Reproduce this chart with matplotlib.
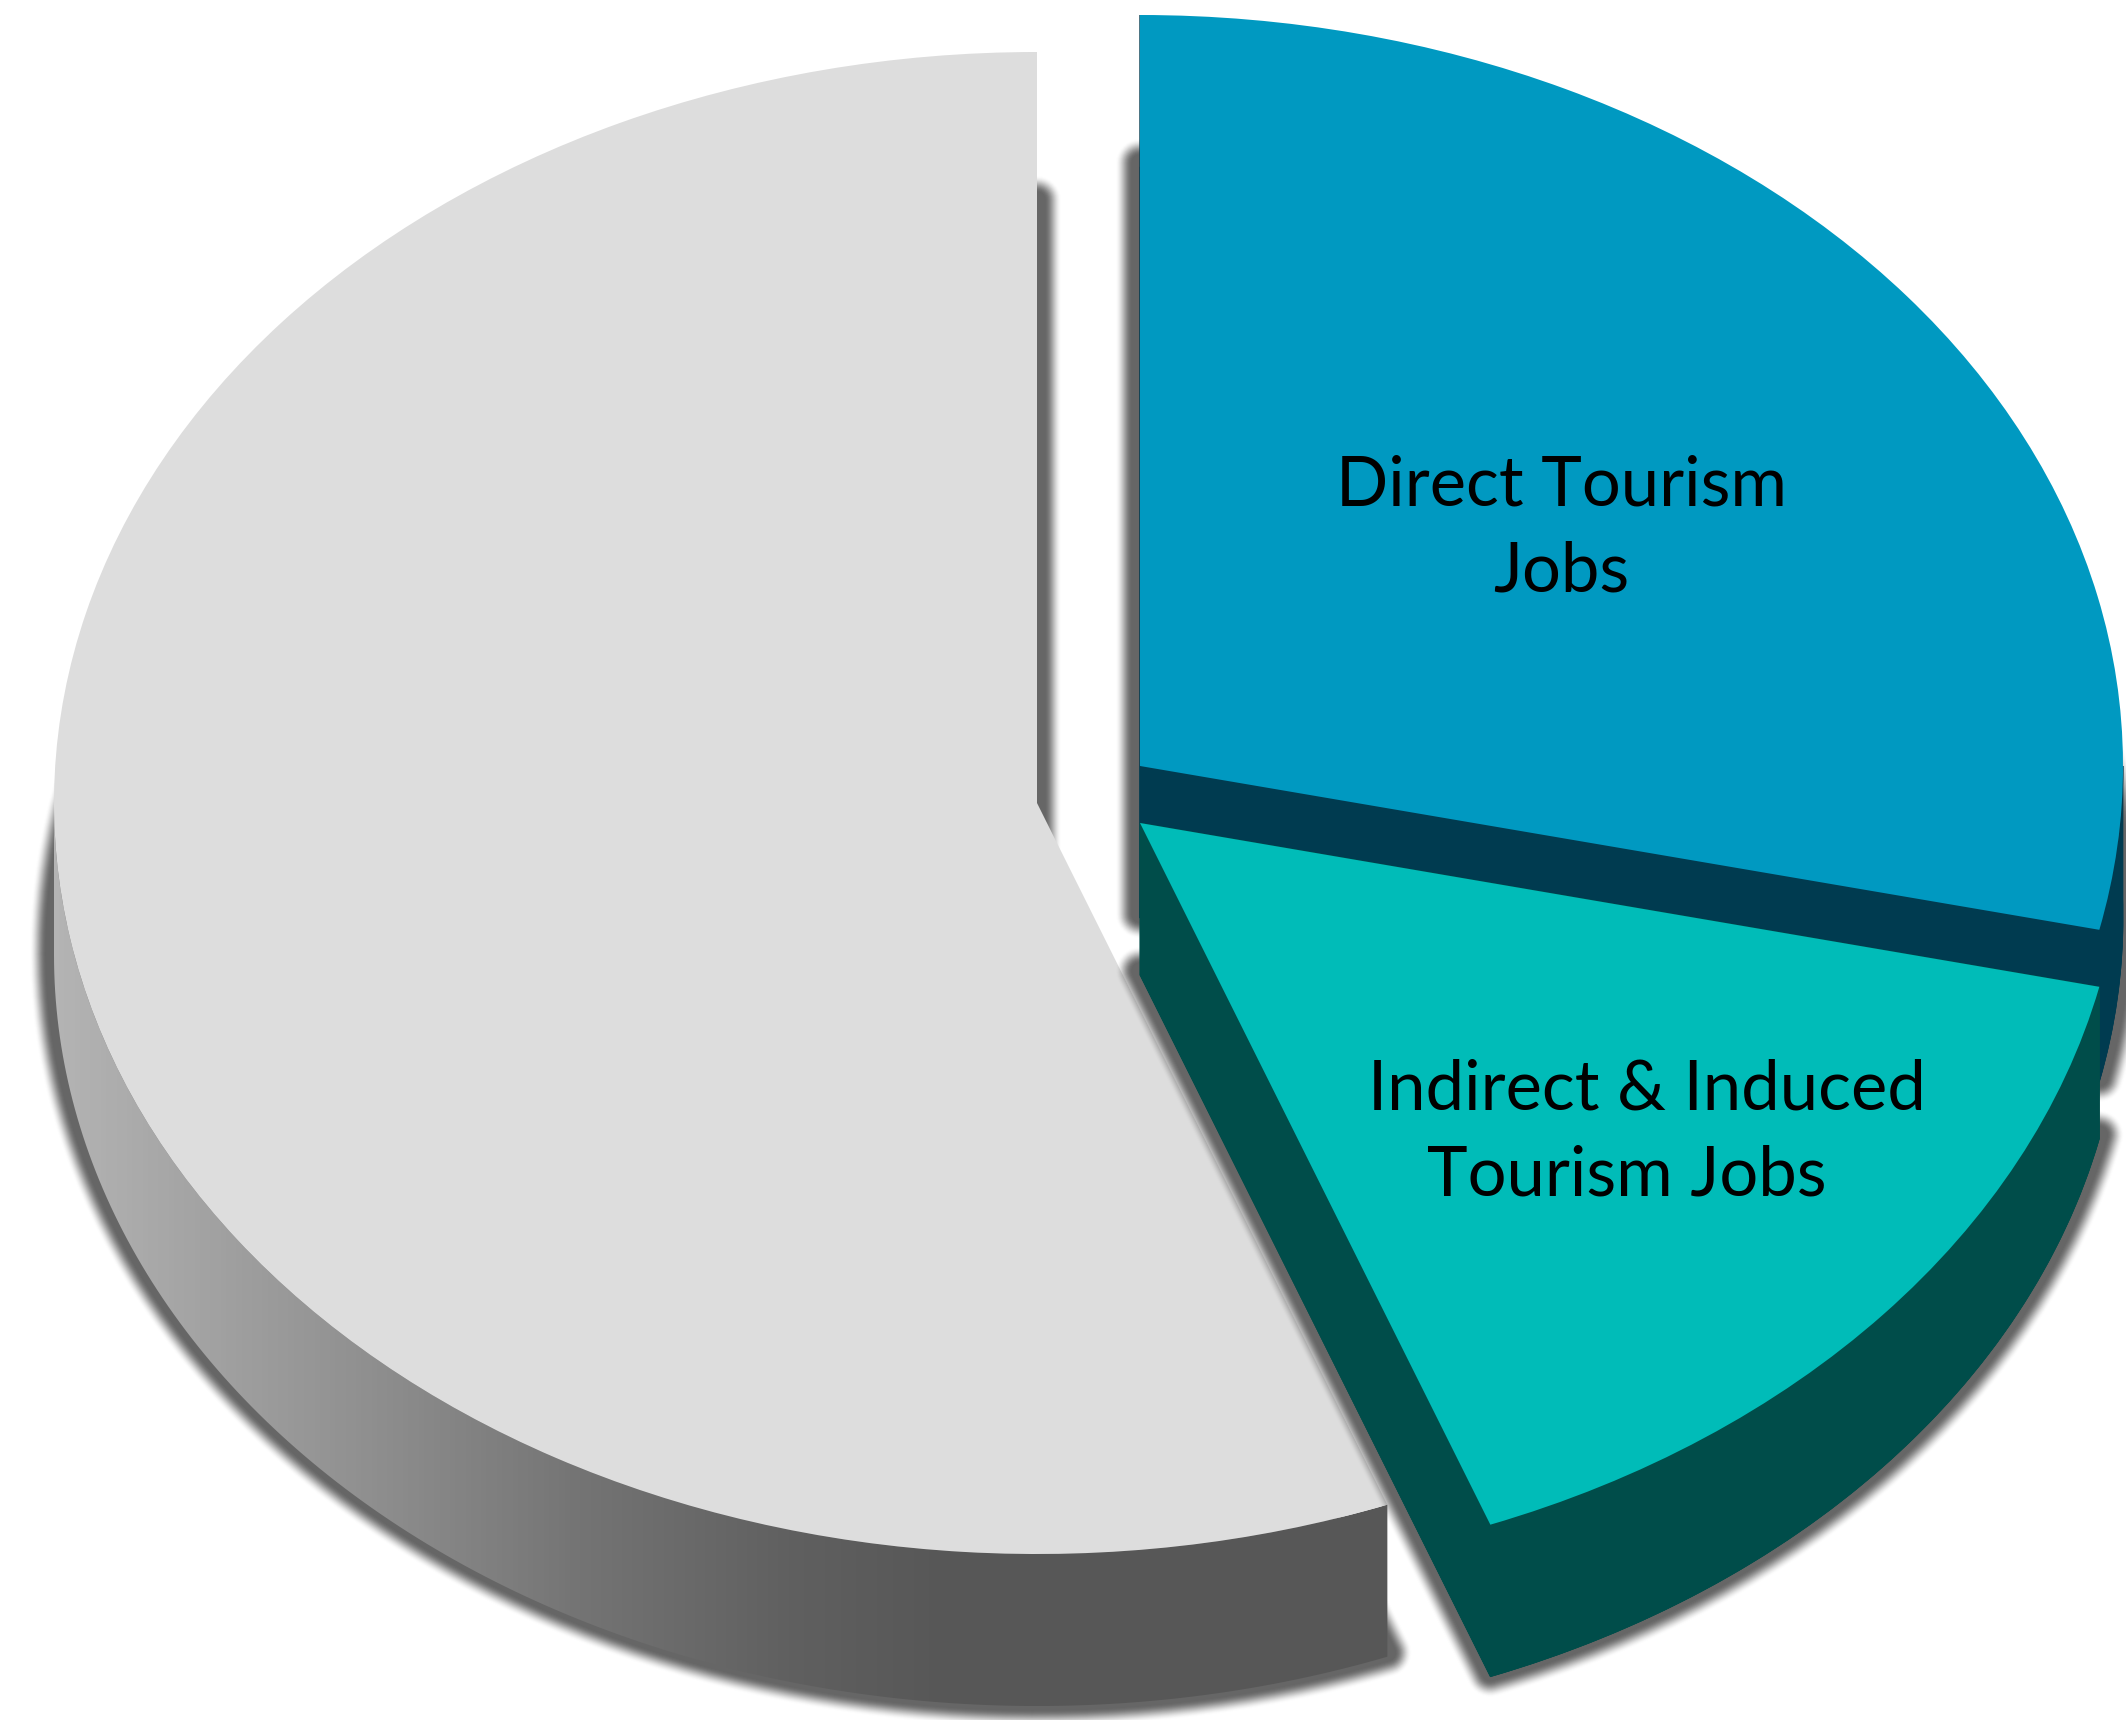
import numpy as np
import matplotlib
matplotlib.use("Agg")
import matplotlib.pyplot as plt
from matplotlib.colors import LinearSegmentedColormap
from matplotlib.patches import Polygon, Wedge

# Share of jobs per slice, counter-clockwise from the top of the pie
slice_names = ["Other Jobs", "Indirect & Induced Tourism Jobs", "Direct Tourism Jobs"]
slice_shares = [55.8, 15.7, 28.5]

top_colors = ["#dddddd", "#00bcb8", "#0099c1"]
side_colors = [None, "#004d4a", "#003b50"]
shadow_color = "#666666"
gradient_stops = [(0.0, "#b4b4b4"), (0.237, "#8f8f8f"), (0.394, "#747474"),
                  (0.551, "#606060"), (0.67, "#575757"), (1.0, "#575757")]

# Stacking order: the teal slice sits in front of the blue one
slice_layers = [10, 30, 20]

# Pixel geometry of the tilted pie
WIDTH, HEIGHT = 2126, 1720
RX, RY = 983, 751
DEPTH = 152
CENTER_PX = (1037, 803)
slice_offsets_px = [(0, 0), (103, 20), (103, -37)]

# Text lines as (string, centre x, baseline y)
label_lines = [
    ("Direct Tourism", 1562, 506),
    ("Jobs", 1561, 592),
    ("Indirect & Induced", 1647, 1109),
    ("Tourism Jobs", 1627, 1196),
]
LABEL_FONT = "Lato"
LABEL_SIZE = 49.5


def to_data(px, py):
    return (px - CENTER_PX[0]) / RX, (CENTER_PX[1] - py) / RY


def arc(cx, cy, t1, t2, drop=0.0, n=160):
    t = np.radians(np.linspace(t1, t2, n))
    return np.column_stack([cx + np.cos(t), cy + np.sin(t) - drop])


def add_shadow(ax, cx, cy, t1, t2, drop, zorder):
    # Soft shadow: nested round-joined outlines of the slice's underside,
    # building up opacity from the outermost ring inwards.
    lift = 4 / RY
    radii = np.linspace(24, 8, 17)
    ramp = np.linspace(0, 1, len(radii) + 1)[1:]
    ramp = ramp * ramp * (3 - 2 * ramp)
    prev = 0.0
    for r, target in zip(radii, ramp):
        a = min(1.0, 1 - (1 - target) / (1 - prev))
        prev = min(target, 0.999)
        w = Wedge((cx, cy - drop + lift), 1, t1, t2, fc=shadow_color, ec=shadow_color,
                  lw=2 * r * 0.72, alpha=a, joinstyle="round", zorder=zorder)
        ax.add_patch(w)


fig = plt.figure(figsize=(WIDTH / 100, HEIGHT / 100), dpi=100, facecolor="white")
ax = fig.add_axes([0, 0, 1, 1])

wedges, _ = ax.pie(slice_shares, startangle=90, counterclock=True, radius=1,
                   colors=top_colors, center=(0, 0))
ax.set_aspect("auto")
ax.axis("off")

drop = DEPTH / RY
gradient = LinearSegmentedColormap.from_list("side", gradient_stops)

for i, (w, off) in enumerate(zip(wedges, slice_offsets_px)):
    cx, cy = off[0] / RX, -off[1] / RY
    t1, t2 = w.theta1, w.theta2
    base = slice_layers[i]
    add_shadow(ax, cx, cy, t1, t2, drop, base)

    # Outer rim: only the lower half of the arc shows
    lo, hi = max(t1, 180), min(t2, 360)
    band = np.vstack([arc(cx, cy, lo, hi), arc(cx, cy, hi, lo, drop)])

    if side_colors[i] is None:
        rim = Polygon(band, closed=True, fc="none", ec="none", zorder=base + 1)
        ax.add_patch(rim)
        img = ax.imshow(np.linspace(0, 1, 256)[None, :], cmap=gradient, aspect="auto",
                        extent=(band[:, 0].min(), band[:, 0].max(), -1.5, 1.5), zorder=base + 1)
        img.set_clip_path(rim)
    else:
        col = side_colors[i]
        ax.add_patch(Polygon(band, closed=True, fc=col, ec=col, lw=0.5, zorder=base + 1))
        ax.add_patch(Wedge((cx, cy - drop), 1, t1, t2, fc=col, ec=col, lw=0.5, zorder=base + 1))
        for t in (t1, t2):
            edge = arc(cx, cy, t, t, n=1)[0]
            ax.add_patch(Polygon([(cx, cy), edge, (edge[0], edge[1] - drop), (cx, cy - drop)],
                                 closed=True, fc=col, ec=col, lw=0.5, zorder=base + 1))

    w.set_center((cx, cy))
    w.set_zorder(base + 2)
    w.set_linewidth(0)

# imshow resets the view, so pin it last
ax.set_xlim(*[to_data(v, 0)[0] for v in (0, WIDTH)])
ax.set_ylim(*[to_data(0, v)[1] for v in (HEIGHT, 0)])

for text, px, py in label_lines:
    x, y = to_data(px, py)
    ax.text(x, y, text, family=LABEL_FONT, fontsize=LABEL_SIZE, color="black",
            ha="center", va="baseline", zorder=100)

fig.savefig("out.png", dpi=100, facecolor="white")
